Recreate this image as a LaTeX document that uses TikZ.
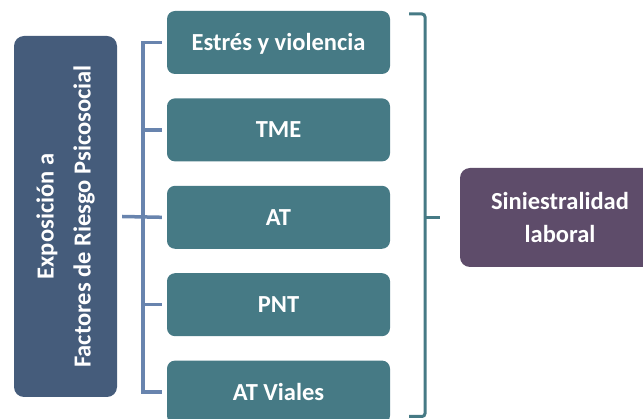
\documentclass[tikz,border=0pt]{standalone}
\usepackage{fontspec}
\setmainfont{Carlito}
\usepackage{tikz}
\usetikzlibrary{positioning}
\definecolor{factorteal}{RGB}{70,122,133}
\definecolor{exposblue}{RGB}{69,92,123}
\definecolor{bracketblue}{RGB}{104,132,174}
\definecolor{siniestropurple}{RGB}{94,76,106}
\tikzset{
  factorbox/.style={fill=factorteal,rounded corners=8pt,minimum width=223pt,minimum height=63pt,
    text=white,text height=16pt,text depth=0pt,font=\fontsize{24.5}{29}\selectfont\bfseries},
  leftbracket/.style={draw=bracketblue,line width=3.5pt},
  rightbracket/.style={draw=factorteal,line width=3pt,rounded corners=3pt}
}

\begin{document}
\begin{tikzpicture}[x=1pt,y=1pt]
\useasboundingbox (0,0) rectangle (643,-419);
\node [fill=exposblue,rounded corners=10pt,rotate=90,minimum width=361pt,minimum height=103pt,
  text=white,align=center,font=\fontsize{24.5}{37}\selectfont\bfseries] (expo) at (65.5,-216.5)
{Exposición a\\Factores de Riesgo Psicosocial};

\node [factorbox] (estres) at (278.5,-42.5) {Estrés y violencia};
\node [factorbox,below=24pt of estres] (tme) {TME};
\node [factorbox,below=24pt of tme] (at) {AT};
\node [factorbox,below=24pt of at] (pnt) {PNT};
\node [factorbox,below=24pt of pnt] (atviales) {AT Viales};

\node [fill=siniestropurple,rounded corners=10pt,minimum width=200pt,minimum height=99pt,
  text=white,align=center,font=\fontsize{24.5}{33}\selectfont\bfseries] (sin) at (560,-217.5)
{Siniestralidad\\laboral};

% llave izquierda
\coordinate (lbrace) at (143,-216.5);
\draw [leftbracket] ([xshift=-5pt]estres.west) -| (lbrace) |- ([xshift=-5pt]atviales.west);
\draw [leftbracket] ([xshift=-5pt]tme.west) -- (tme.west -| lbrace);
\draw [leftbracket] ([xshift=-5pt]pnt.west) -- (pnt.west -| lbrace);
\draw [leftbracket] ([xshift=5pt]expo.south) -- ([xshift=-5pt]at.west);

% llave derecha
\coordinate (rtop) at (409,-14);
\coordinate (rbot) at (409,-416.5);
\coordinate (rbrace) at (425,-217.5);
\draw [rightbracket] (rtop) -| (rbrace) |- (rbot);
\draw [rightbracket] (rbrace) -- ([xshift=-20pt]sin.west);
\end{tikzpicture}
\end{document}
